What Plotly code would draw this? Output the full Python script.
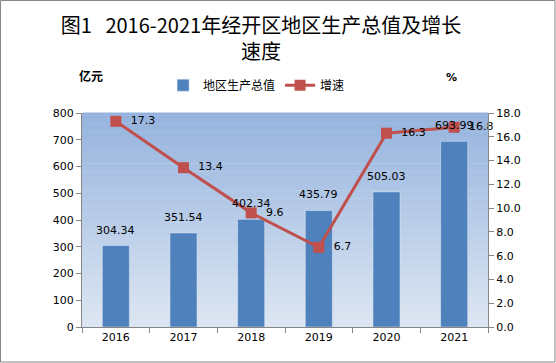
import plotly.graph_objects as go

years = ["2016", "2017", "2018", "2019", "2020", "2021"]
gdp = [304.34, 351.54, 402.34, 435.79, 505.03, 693.99]
growth = [17.3, 13.4, 9.6, 6.7, 16.3, 16.8]

bar_color = "#4F81BD"
line_color = "#C0504D"
axis_color = "#868686"
font_family = "DejaVu Sans, Noto Sans CJK SC, sans-serif"

fig = go.Figure()
fig.add_trace(go.Bar(
    x=years, y=gdp, name="地区生产总值", marker_color=bar_color, width=0.4,
))
fig.add_trace(go.Scatter(
    x=years, y=growth, name="增速", yaxis="y2", mode="lines+markers+text",
    line=dict(color=line_color, width=3),
    marker=dict(symbol="square", size=11, color=line_color),
    text=[f"  {v:.1f}" for v in growth], textposition="middle right",
    textfont=dict(size=11, color="#000000"), cliponaxis=False,
))

# gradient background of plot area
n = 80
top = (149, 179, 222)
bot = (220, 230, 242)
shapes = []
for i in range(n):
    t = i / (n - 1)
    c = tuple(round(bot[k] + (top[k] - bot[k]) * t) for k in range(3))
    shapes.append(dict(type="rect", xref="paper", yref="paper",
                       x0=0, x1=1, y0=i / n, y1=(i + 1) / n + 0.002,
                       fillcolor=f"rgb{c}", line=dict(width=0), layer="below"))
# outer border
shapes.append(dict(type="rect", xref="paper", yref="paper",
                   x0=-81.5/406, x1=1+67/406, y0=-35/214, y1=1+112.5/214,
                   line=dict(color="#868686", width=1), fillcolor="rgba(0,0,0,0)"))

# bar value labels (x given as category index on the category axis)
annotations = [
    dict(x=i, y=v, xref="x", yref="y", text=f"{v:.2f}", showarrow=False,
         yanchor="bottom", yshift=7, font=dict(size=11, color="#000000"))
    for i, v in enumerate(gdp)
]
annotations += [
    dict(text="<b>亿元</b>", xref="paper", yref="paper", x=(91-82)/406, y=1+38/214,
         xanchor="center", yanchor="middle", showarrow=False,
         font=dict(family="Noto Sans CJK SC, sans-serif", size=12)),
    dict(text="<b>%</b>", xref="paper", yref="paper", x=(451-82)/406, y=1+36/214,
         xanchor="center", yanchor="middle", showarrow=False,
         font=dict(size=11)),
]

fig.update_layout(
    width=556, height=363,
    margin=dict(l=82, r=68, t=113, b=36),
    paper_bgcolor="white", plot_bgcolor="rgba(0,0,0,0)",
    font=dict(family=font_family, size=11, color="#000000"),
    shapes=shapes,
    title=dict(text="图1&nbsp;&nbsp;&nbsp;2016-2021年经开区地区生产总值及增长<br>速度",
               x=(261-82)/406, xref="paper", xanchor="center", y=0.91, yanchor="top",
               font=dict(family="Noto Sans CJK SC, sans-serif", size=20, color="#000000")),
    showlegend=True,
    legend=dict(orientation="h", x=0.43, xanchor="center", y=1.13, yanchor="middle",
                bgcolor="rgba(0,0,0,0)",
                font=dict(family="Noto Sans CJK SC, sans-serif", size=12),
                itemwidth=30, tracegroupgap=0),
    xaxis=dict(type="category", range=[-0.5, 5.5], showline=True, linecolor=axis_color,
               linewidth=1, ticks="outside", tickson="boundaries", tickcolor=axis_color,
               ticklen=5, showgrid=False, tickfont=dict(size=11)),
    yaxis=dict(range=[0, 800], dtick=100, showgrid=False, showline=True,
               linecolor=axis_color, ticks="outside", tickcolor=axis_color, ticklen=5,
               zeroline=False, tickfont=dict(size=11)),
    yaxis2=dict(range=[0, 18], dtick=2, tickformat=".1f", overlaying="y", side="right",
                showgrid=False, showline=True, linecolor=axis_color, ticks="outside",
                tickcolor=axis_color, ticklen=5, zeroline=False, tickfont=dict(size=11)),
    annotations=annotations,
)

fig.write_html("out.html", config={"displayModeBar": False},
               post_script="document.body.style.margin='0';")
